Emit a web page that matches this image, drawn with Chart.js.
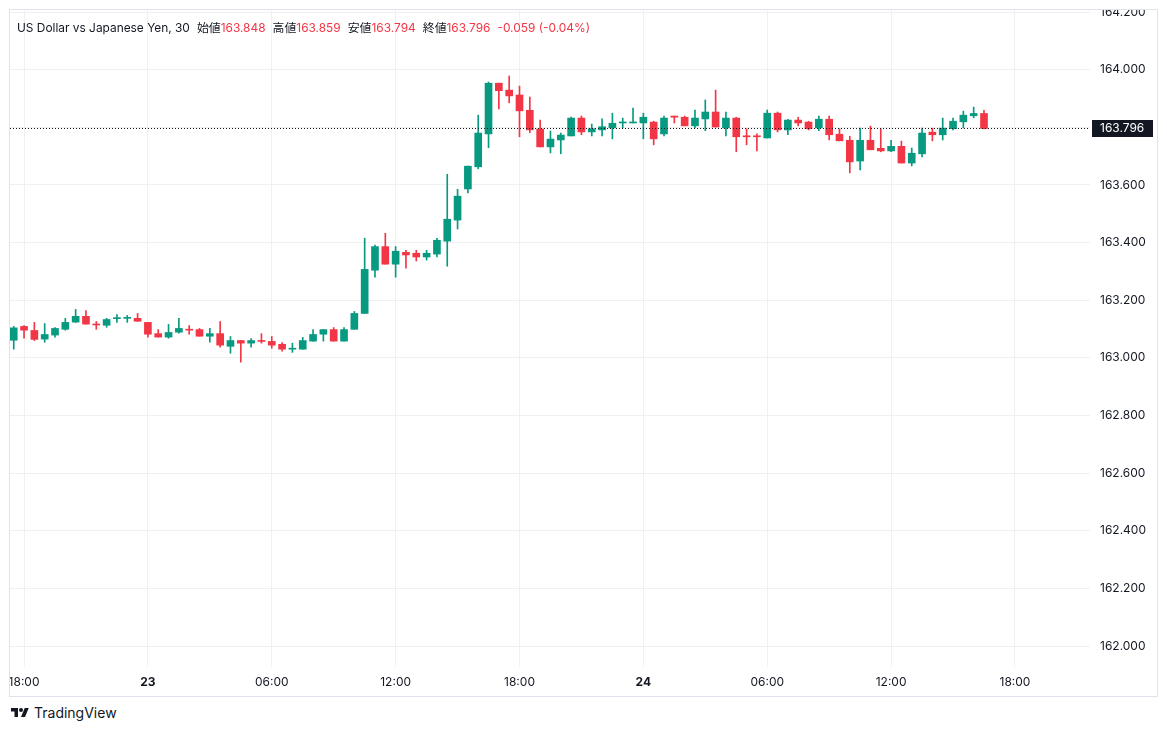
<!DOCTYPE html>
<html lang="ja">
<head>
<meta charset="UTF-8">
<title>US Dollar vs Japanese Yen, 30</title>
<script src="https://cdn.jsdelivr.net/npm/chart.js"></script>
<style>
  body { margin: 0; background: #fff; font-family: Inter, "Noto Sans CJK JP", sans-serif; }
  #frame { position: absolute; left: 9px; top: 9px; width: 1147px; height: 686px; border: 1px solid #e0e3eb; overflow: hidden; }
  #wrap { position: absolute; left: 0; top: 0; width: 1147px; height: 686px; }
  #legend { position: absolute; left: 7px; top: 8px; font-size: 11.9px; color: #131722; white-space: nowrap; }
  #legend .v { color: #f23645; margin-right: 7px; }
  #legend .t { margin-right: 7px; }
  #brand { position: absolute; left: 10px; top: 704px; display: flex; align-items: center; font-size: 14px; color: #131722; }
  #brand svg { margin-right: 4px; }
</style>
</head>
<body>

<div id="frame">
  <div id="wrap"><canvas id="chart"></canvas></div>
  <div id="legend"><span class="t">US Dollar vs Japanese Yen, 30</span>始値<span class="v">163.848</span>高値<span class="v">163.859</span>安値<span class="v">163.794</span>終値<span class="v">163.796</span><span class="v">-0.059 (-0.04%)</span></div>
</div>
<div id="brand">
  <svg width="20" height="14" viewBox="0 0 36 28"><path d="M14 22H7V11H0V4h14v18zM28 22h-8l7.5-18h8L28 22z" fill="#131722"/><circle cx="20" cy="8" r="4" fill="#131722"/></svg>
  <span>TradingView</span>
</div>

<script>
// 30-minute candles, 22nd 17:30 -> 24th 16:30
const opens = [163.061,163.109,163.095,163.065,163.079,163.099,163.124,163.144,163.116,163.113,
  163.136,163.137,163.137,163.123,163.084,163.072,163.089,163.099,163.098,163.075,
  163.084,163.040,163.060,163.051,163.060,163.057,163.047,163.030,163.030,163.058,
  163.082,163.098,163.058,163.099,163.154,163.304,163.386,163.325,163.366,163.363,
  163.350,163.360,163.405,163.478,163.586,163.663,163.777,163.953,163.929,163.912,
  163.859,163.794,163.732,163.756,163.770,163.832,163.784,163.791,163.798,163.815,
  163.815,163.815,163.818,163.777,163.839,163.835,163.805,163.829,163.853,163.798,
  163.832,163.769,163.769,163.763,163.849,163.791,163.825,163.818,163.798,163.828,
  163.776,163.755,163.683,163.755,163.727,163.718,163.734,163.676,163.708,163.783,
  163.774,163.795,163.819,163.840,163.848];
const highs = [163.109,163.112,163.123,163.119,163.105,163.137,163.168,163.164,163.126,163.137,
  163.150,163.147,163.154,163.123,163.098,163.116,163.137,163.112,163.102,163.102,
  163.126,163.074,163.060,163.067,163.084,163.074,163.053,163.051,163.071,163.098,
  163.098,163.105,163.105,163.161,163.415,163.391,163.432,163.386,163.373,163.373,
  163.373,163.415,163.637,163.585,163.665,163.842,163.957,163.953,163.978,163.943,
  163.905,163.825,163.787,163.780,163.835,163.839,163.811,163.829,163.849,163.832,
  163.867,163.849,163.821,163.839,163.839,163.839,163.860,163.895,163.929,163.853,
  163.835,163.795,163.777,163.860,163.853,163.828,163.835,163.821,163.839,163.839,
  163.795,163.769,163.797,163.804,163.795,163.755,163.752,163.728,163.797,163.797,
  163.832,163.832,163.856,163.870,163.859];
const lows = [163.030,163.068,163.060,163.054,163.072,163.096,163.123,163.117,163.099,163.106,
  163.123,163.123,163.127,163.072,163.072,163.068,163.086,163.082,163.075,163.054,
  163.037,163.016,162.985,163.037,163.051,163.033,163.023,163.019,163.030,163.058,
  163.058,163.058,163.058,163.099,163.154,163.280,163.325,163.280,163.311,163.336,
  163.339,163.350,163.318,163.447,163.572,163.656,163.729,163.864,163.885,163.767,
  163.781,163.732,163.711,163.708,163.770,163.774,163.770,163.770,163.760,163.798,
  163.815,163.760,163.739,163.770,163.815,163.805,163.798,163.788,163.801,163.770,
  163.715,163.739,163.718,163.763,163.784,163.774,163.805,163.791,163.788,163.756,
  163.753,163.642,163.652,163.722,163.715,163.715,163.676,163.666,163.697,163.753,
  163.756,163.791,163.798,163.833,163.794];
const closes = [163.104,163.096,163.064,163.081,163.102,163.123,163.144,163.117,163.114,163.133,
  163.138,163.138,163.127,163.082,163.072,163.088,163.102,163.096,163.075,163.084,
  163.044,163.060,163.051,163.060,163.057,163.044,163.030,163.033,163.060,163.081,
  163.098,163.058,163.098,163.154,163.307,163.386,163.325,163.370,163.357,163.350,
  163.363,163.408,163.481,163.561,163.665,163.780,163.953,163.927,163.909,163.857,
  163.791,163.732,163.759,163.773,163.832,163.784,163.795,163.802,163.814,163.818,
  163.818,163.835,163.760,163.832,163.835,163.805,163.832,163.853,163.801,163.832,
  163.767,163.767,163.767,163.849,163.791,163.825,163.815,163.795,163.828,163.774,
  163.753,163.680,163.755,163.722,163.718,163.734,163.676,163.710,163.780,163.774,
  163.797,163.821,163.842,163.848,163.796];

// x ticks: candle index of each 6-hour mark
const xTickPos = [1, 13, 25, 37, 49, 61, 73, 85, 97];
const xTickLabels = ['18:00', '23', '06:00', '12:00', '18:00', '24', '06:00', '12:00', '18:00'];
const xTickBold = [false, true, false, false, false, true, false, false, false];
const yTicks = [162.0, 162.2, 162.4, 162.6, 162.8, 163.0, 163.2, 163.4, 163.6, 163.8, 164.0, 164.2];

const UP = '#089981';
const DOWN = '#f23645';
const GRID = '#f0f0f0';
const TXT = '#131722';

const idx = opens.map((_, i) => i);
const candleColors = idx.map(i => closes[i] >= opens[i] ? UP : DOWN);

// dotted last-price line + price tag on the axis
const lastPrice = {
  id: 'lastPrice',
  afterDatasetsDraw(chart) {
    const { ctx, chartArea, scales: { y } } = chart;
    const last = closes[closes.length - 1];
    const py = Math.round(y.getPixelForValue(last)) + 0.5;
    ctx.save();
    ctx.strokeStyle = TXT;
    ctx.lineWidth = 1;
    ctx.setLineDash([1, 2]);
    ctx.beginPath();
    ctx.moveTo(chartArea.left, py);
    ctx.lineTo(chartArea.right, py);
    ctx.stroke();
    ctx.restore();
  },
  afterDraw(chart) {
    const { ctx, chartArea, scales: { y } } = chart;
    const last = closes[closes.length - 1];
    const py = Math.round(y.getPixelForValue(last));
    ctx.save();
    ctx.fillStyle = TXT;
    ctx.fillRect(chartArea.right + 2, py - 8, 61, 17);
    ctx.fillStyle = '#fff';
    ctx.font = '12px Inter';
    ctx.textBaseline = 'middle';
    ctx.fillText(last.toFixed(3), chartArea.right + 10, py + 0.5);
    ctx.restore();
  }
};

new Chart(document.getElementById('chart'), {
  type: 'bar',
  data: {
    datasets: [{
      // bodies
      data: idx.map(i => ({ x: i, y: [opens[i], closes[i]] })),
      backgroundColor: candleColors,
      barThickness: 7,
      minBarLength: 1,
      grouped: false
    }, {
      // wicks
      data: idx.map(i => ({ x: i, y: [lows[i], highs[i]] })),
      backgroundColor: candleColors,
      barThickness: 1,
      grouped: false
    }]
  },
  options: {
    responsive: true,
    maintainAspectRatio: false,
    animation: false,
    layout: { padding: 0 },
    plugins: { legend: { display: false }, tooltip: { enabled: false } },
    scales: {
      x: {
        type: 'linear',
        min: -0.36,
        max: 104.27,
        offset: false,
        grid: { color: GRID, offset: false, drawTicks: false },
        border: { display: false },
        afterBuildTicks: s => { s.ticks = xTickPos.map(v => ({ value: v })); },
        afterFit: s => { s.height = 29; s.paddingLeft = 0; s.paddingRight = 0; },
        ticks: {
          autoSkip: false,
          maxRotation: 0,
          padding: 8,
          color: TXT,
          font: c => ({ family: 'Inter', size: 12, weight: xTickBold[c.index] ? 'bold' : 'normal' }),
          callback: (v, i) => xTickLabels[i]
        }
      },
      y: {
        type: 'linear',
        position: 'right',
        min: 161.9272,
        max: 164.2070,
        grid: { color: GRID, drawTicks: false },
        border: { display: false },
        afterBuildTicks: s => { s.ticks = yTicks.map(v => ({ value: v })); },
        afterFit: s => { s.width = 67; s.paddingTop = 0; s.paddingBottom = 0; },
        ticks: {
          padding: 10,
          color: TXT,
          font: { family: 'Inter', size: 12 },
          callback: v => v.toFixed(3)
        }
      }
    }
  },
  plugins: [lastPrice]
});
</script>
</body>
</html>
